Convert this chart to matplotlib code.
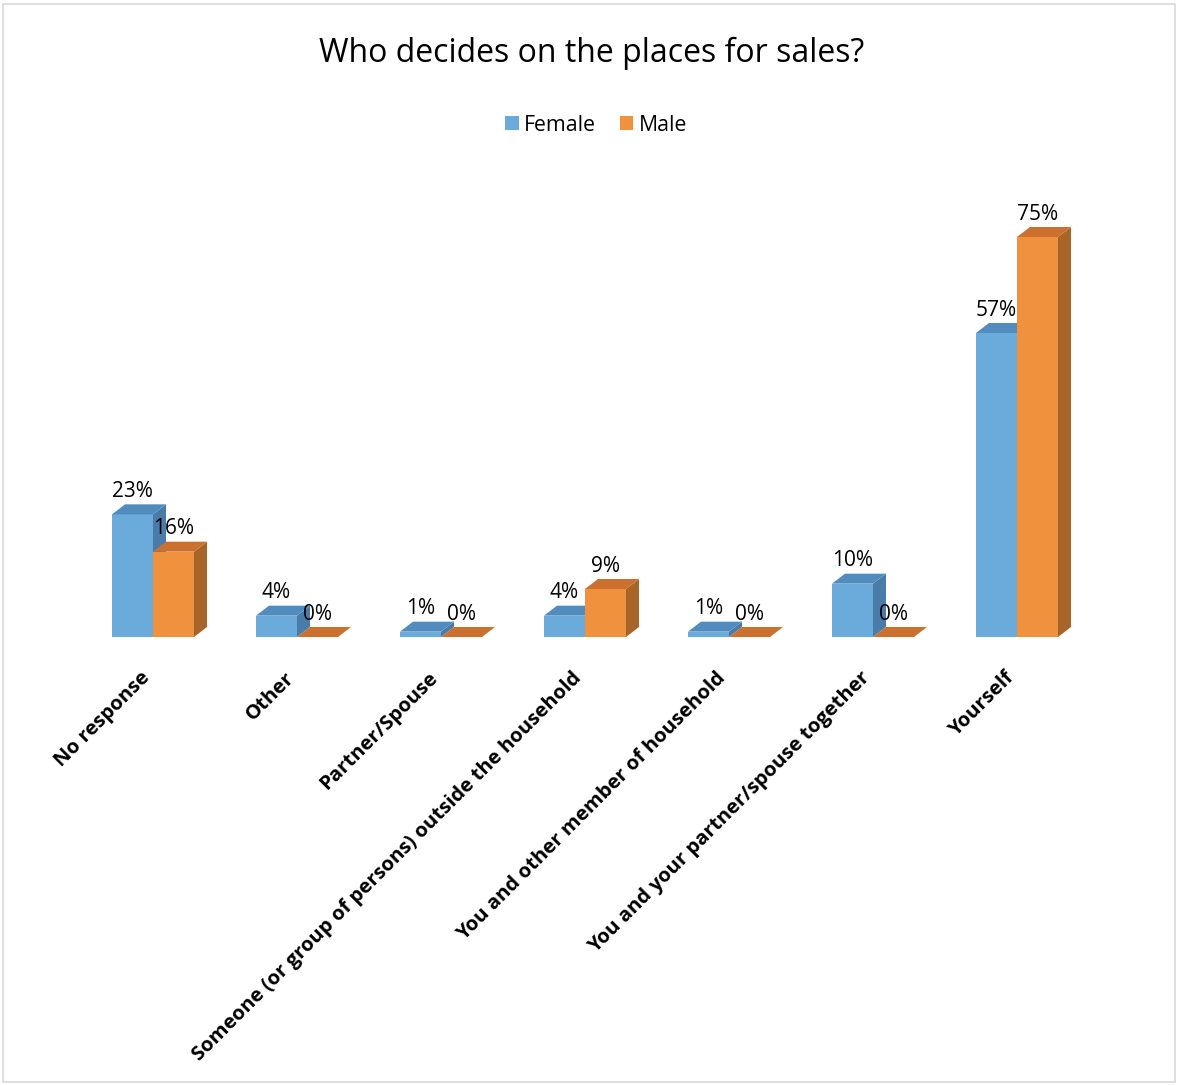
import matplotlib.pyplot as plt
from matplotlib.patches import Polygon, Patch, Rectangle

plt.rcParams['font.family'] = ['Open Sans', 'DejaVu Sans']

# Survey answers by gender (percent)
categories = ["No response", "Other", "Partner/Spouse",
              "Someone (or group of persons) outside the household",
              "You and other member of household",
              "You and your partner/spouse together", "Yourself"]
female = [23, 4, 1, 4, 1, 10, 57]
male = [16, 0, 0, 9, 0, 0, 75]

# Face colours for the pseudo-3D bars: front, top, side
female_cols = ("#6aabdb", "#528bbd", "#4a7caa")
male_cols = ("#f0913e", "#cc7030", "#a8652a")

W, H = 1179, 1085
fig = plt.figure(figsize=(W / 100, H / 100), dpi=100)

# axes placed so the baseline sits near y=637 px, 144 px per category
px_per_cat = 144
px_per_pct = 400 / 75
x0, x1 = -0.8, 6.8
y0, y1 = 0, 90
left = 153 - (0 - x0) * px_per_cat
ax = fig.add_axes([left / W, (H - 637) / H,
                   (x1 - x0) * px_per_cat / W, (y1 - y0) * px_per_pct / H])
ax.set_xlim(x0, x1)
ax.set_ylim(y0, y1)
ax.axis("off")

bw = 41 / px_per_cat
dx = 13 / px_per_cat
dy = 10 / px_per_pct


def bar3d(x, v, cols):
    front, top, side = cols
    # side face
    ax.add_patch(Polygon([(x + bw, 0), (x + bw + dx, dy), (x + bw + dx, v + dy), (x + bw, v)],
                         closed=True, facecolor=side, edgecolor="none"))
    # front face
    if v > 0:
        ax.bar(x, v, width=bw, align="edge", color=front, linewidth=0)
    # top face
    ax.add_patch(Polygon([(x, v), (x + dx, v + dy), (x + bw + dx, v + dy), (x + bw, v)],
                         closed=True, facecolor=top, edgecolor="none"))


for i in range(len(categories)):
    bar3d(i - bw, female[i], female_cols)
    bar3d(i, male[i], male_cols)

# value labels above each bar
for i in range(len(categories)):
    for xl, v in ((i - bw / 2, female[i]), (i + bw / 2, male[i])):
        ax.text(xl, v + dy + 1.4, f"{v}%", ha="center", va="baseline",
                fontsize=15, color="#000000")

# rotated category labels
for i, lab in enumerate(categories):
    ax.text(i - 6 / px_per_cat, -38 / px_per_pct, lab, rotation=45,
            rotation_mode="anchor", ha="right", va="center",
            fontsize=14.6, fontweight="bold", color="#000000", clip_on=False)

fig.text(592 / W, 1 - 53 / H, "Who decides on the places for sales?",
         ha="center", va="center", fontsize=23, color="#000000")

handles = [Patch(facecolor=female_cols[0], label="Female"),
           Patch(facecolor=male_cols[0], label="Male")]
fig.legend(handles=handles, loc="center", bbox_to_anchor=(596 / W, 1 - 125 / H),
           ncol=2, frameon=False, fontsize=15.3, handlelength=0.65, handleheight=0.65,
           handletextpad=0.25, columnspacing=1.1)

# light chart border
fig.add_artist(Rectangle((3 / W, 3 / H), (W - 7) / W, (H - 7) / H,
                         transform=fig.transFigure, fill=False,
                         edgecolor="#d9d9d9", linewidth=1.2))

fig.savefig("out.png", dpi=100)
